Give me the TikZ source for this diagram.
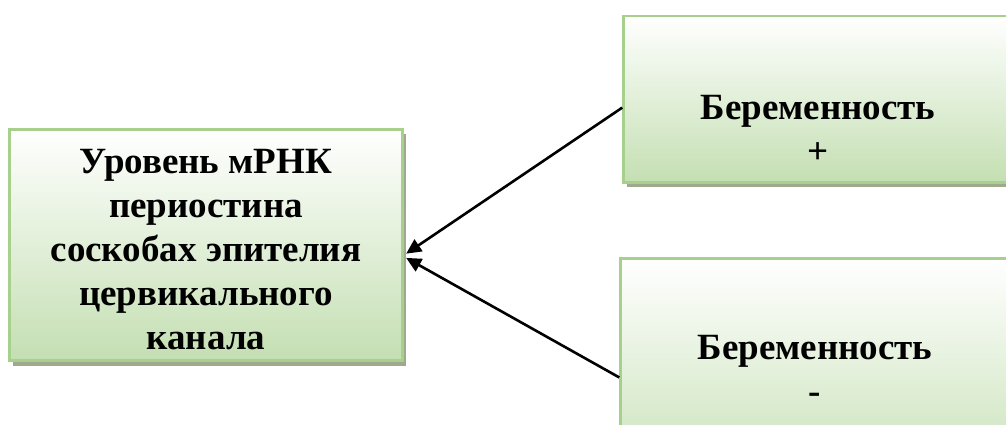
\documentclass[tikz,border=0pt]{standalone}
\usepackage{fontspec}
\setmainfont{Liberation Serif}
\usetikzlibrary{shadows,arrows.meta,calc}
\definecolor{boxborder}{RGB}{168,208,141}
\definecolor{boxbottom}{RGB}{196,223,178}
\definecolor{shadowc}{RGB}{158,169,142}
\tikzset{
  gbox/.style={rectangle, draw=boxborder, line width=2.8pt, top color=white, bottom color=boxbottom,
    drop shadow={shadow xshift=3.5pt, shadow yshift=-5pt, fill=shadowc, opacity=1}, inner sep=0pt},
  btext/.style={align=center, font=\fontsize{37}{44}\selectfont\bfseries, inner sep=0pt},
  conn/.style={line width=2.6pt, -{Triangle[length=15pt,width=14pt]}}
}
\begin{document}
\begin{tikzpicture}[x=1pt,y=-1pt]
\useasboundingbox (0,0) rectangle (1006,424);
\clip (0,0) rectangle (1006,424);
\node[gbox, minimum width=393.5pt, minimum height=231.5pt] (left) at (206,245) {};
\node[btext] (lefttext) at (206,250) {Уровень мРНК\\периостина\\соскобах эпителия\\цервикального\\канала};
\node[gbox, anchor=north west, minimum width=420pt, minimum height=166.5pt] (top) at (622.25,14.5) {};
\node[btext] (toptext) at (818,129) {Беременность\\+};
\node[gbox, anchor=north west, minimum width=420pt, minimum height=240pt] (bot) at (619.25,257.25) {};
\node[btext] (bottext) at (815,369) {Беременность\\-};
\draw[conn] ($(top.north west)!0.55!(top.south west)$) -- ($(left.north east)!0.537!(left.south east)+(2,0)$);
\draw[conn] ($(bot.north west)!0.495!(bot.south west)$) -- ($(left.north east)!0.555!(left.south east)+(2,0)$);
\end{tikzpicture}
\end{document}
